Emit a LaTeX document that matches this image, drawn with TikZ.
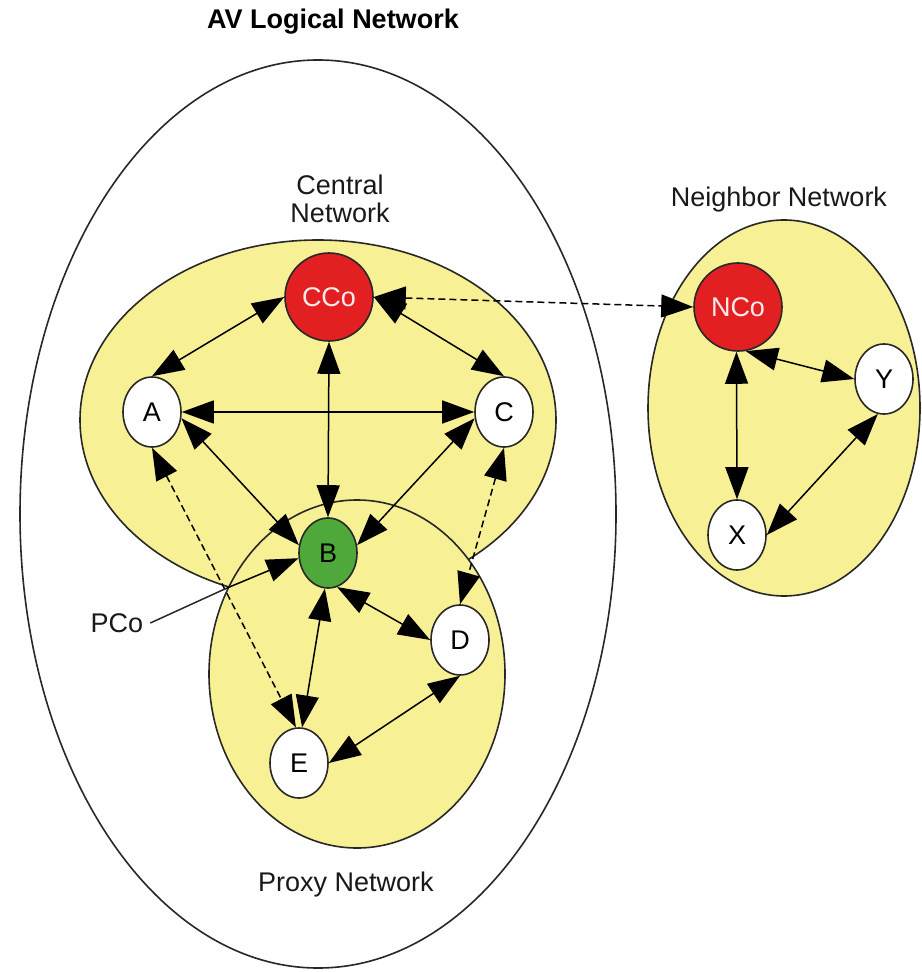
\documentclass[tikz,border=0pt]{standalone}
\usepackage{fontspec}
\setmainfont{Liberation Sans}
\usetikzlibrary{shapes.geometric,arrows.meta}
\definecolor{netyellow}{RGB}{247,240,148}
\definecolor{cored}{RGB}{226,32,34}
\definecolor{pgreen}{RGB}{78,168,58}
\definecolor{edgegray}{RGB}{40,40,40}
\begin{document}
\begin{tikzpicture}[x=0.5pt,y=-0.5pt,
  every node/.style={font=\fontsize{13.5}{14}\selectfont},
  netnode/.style={ellipse, draw=edgegray, line width=0.8pt, fill=white, minimum width=29pt, minimum height=35pt, inner sep=0pt},
  conode/.style={circle, draw=edgegray, line width=0.8pt, fill=cored, minimum size=44pt, inner sep=0pt, text=white!92!red},
  link/.style={arrows={Triangle[length=16pt,width=11.5pt]-Triangle[length=16pt,width=11.5pt]}, line width=0.75pt, draw=black},
  dlink/.style={link, dash pattern=on 3.5pt off 2pt},
  region/.style={draw=edgegray, line width=0.8pt},
  lbl/.style={font=\fontsize{13.5}{14}\selectfont, text=black!90},
]
\useasboundingbox (0,0) rectangle (921,972);
\fill[white] (0,0) rectangle (921,972);

% outer AV logical network
\draw[region] (318,514) ellipse [x radius=149pt, y radius=227pt];

% central network region
\fill[netyellow] (318,420) ellipse [x radius=119pt, y radius=90pt];
\draw[region] (318,420) ellipse [x radius=119pt, y radius=90pt];
% proxy network region
\fill[netyellow] (357,674) ellipse [x radius=74pt, y radius=87pt];
\draw[region] (357,674) ellipse [x radius=74pt, y radius=87pt];
% neighbor network region
\fill[netyellow] (784,408) ellipse [x radius=68pt, y radius=94pt];
\draw[region] (784,408) ellipse [x radius=68pt, y radius=94pt];

% labels
\node[font=\bfseries\fontsize{13.5}{14}\selectfont] (title) at (333,22) {AV Logical Network};
\node[lbl, align=center, font=\fontsize{13.5}{14}\selectfont] (central) at (340,199) {Central\\Network};
\node[lbl] (proxy) at (346,885) {Proxy Network};
\node[lbl] (neigh) at (779,200) {Neighbor Network};
\node[lbl] (pco) at (117,623) {PCo};

% nodes
\node[conode] (CCo) at (329,297) {CCo};
\node[netnode] (A) at (152,412) {A};
\node[netnode] (C) at (504,412) {C};
\node[netnode, fill=pgreen] (B) at (328,553) {B};
\node[netnode] (D) at (460,640) {D};
\node[netnode] (E) at (299,763) {E};
\node[conode] (NCo) at (738,307) {NCo};
\node[netnode] (Y) at (884,379) {Y};
\node[netnode] (X) at (737,535) {X};

% connectors
\draw[link] (CCo.west) -- (A.north);
\draw[link] (CCo.east) -- (C.north);
\draw[link] (CCo.south) -- (B.north);
\draw[link] (A.east) -- (C.west);
\draw[link] (A.-12) -- (B.165);
\draw[link] (C.192) -- (B.15);
\draw[dlink] (A.south) -- (E.95);
\draw[dlink] (C.south) -- (D.north);
\draw[link] (B.-75) -- (D.west);
\draw[link] (B.-95) -- (E.85);
\draw[link] (D.south) -- (E.east);
\draw[dlink] (CCo.east) -- (NCo.west);
\draw[link] (NCo.-80) -- (Y.west);
\draw[link] (NCo.-92) -- (X.north);
\draw[link] (Y.-100) -- (X.east);

% PCo callout
\coordinate (pj) at (227,588);
\draw[line width=0.75pt, draw=edgegray] (pco.east) -- (pj);
\draw[-{Triangle[length=16pt,width=11.5pt]}, line width=0.75pt] (pj) -- (B.190);
\end{tikzpicture}
\end{document}
